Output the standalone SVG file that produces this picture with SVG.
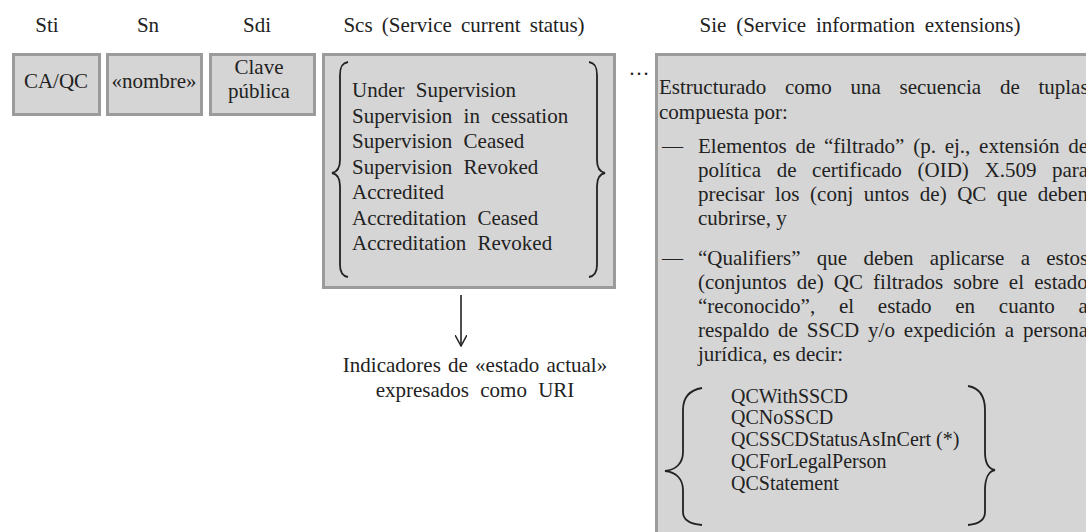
<svg xmlns="http://www.w3.org/2000/svg" width="1086" height="532" viewBox="0 0 1086 532">
<style>
text{font-family:"Liberation Serif","Times New Roman",serif;font-size:21px;fill:#222}
.box{fill:#d5d5d5;stroke:#9b9b9b;stroke-width:3}
.mid{text-anchor:middle}
.brace{fill:none;stroke:#222;stroke-width:1.8}
.conn{fill:none;stroke:#222;stroke-width:1.6}
.qc{font-size:20px}
</style>
<defs>
<marker id="arr" viewBox="0 0 12 12" refX="11" refY="6" markerWidth="12" markerHeight="12" markerUnits="userSpaceOnUse" orient="auto">
<path d="M0,0 L11,6 L0,12" fill="none" stroke="#222" stroke-width="1.5"/>
</marker>
</defs>
<rect width="1086" height="532" fill="#fff"/>
<g id="labels">
<text class="mid" x="47" y="32">Sti</text>
<text class="mid" x="148" y="32">Sn</text>
<text class="mid" x="257" y="32">Sdi</text>
<text class="mid" x="464" y="32" style="word-spacing:4px">Scs (Service current status)</text>
<text class="mid" x="860" y="32" style="word-spacing:4.5px">Sie (Service information extensions)</text>
</g>
<g id="sti">
<rect class="box" x="13.5" y="54.5" width="86" height="60"/>
<text class="mid" x="56" y="88">CA/QC</text>
</g>
<g id="sn">
<rect class="box" x="107.5" y="54.5" width="94" height="60"/>
<text class="mid" x="154" y="88">«nombre»</text>
</g>
<g id="sdi">
<rect class="box" x="210.5" y="54.5" width="104" height="60"/>
<text class="mid" x="259" y="74">Clave</text>
<text class="mid" x="259" y="98">pública</text>
</g>
<g id="scs">
<rect class="box" x="323.5" y="54.5" width="291" height="233"/>
<path class="brace" d="M348,62 C342,63 340,67 340,75 L340,160 C340,168 337,172 332,173 C337,174 340,178 340,186 L340,265 C340,272 342,276 348,277"/>
<path class="brace" d="M589,62 C595,63 597,67 597,75 L597,160 C597,168 600,172 605,173 C600,174 597,178 597,186 L597,265 C597,272 595,276 589,277"/>
<g style="word-spacing:6px">
<text x="352" y="97">Under Supervision</text>
<text x="352" y="122.5">Supervision in cessation</text>
<text x="352" y="148">Supervision Ceased</text>
<text x="352" y="173.5">Supervision Revoked</text>
<text x="352" y="199">Accredited</text>
<text x="352" y="224.5">Accreditation Ceased</text>
<text x="352" y="250">Accreditation Revoked</text>
</g>
</g>
<g id="dots">
<text class="mid" x="639" y="75">…</text>
</g>
<g id="uri">
<text class="mid" x="475" y="372" style="word-spacing:2px">Indicadores de «estado actual»</text>
<text class="mid" x="475" y="397" style="word-spacing:6px">expresados como URI</text>
</g>
<g id="sie">
<rect class="box" x="656.5" y="54.5" width="500" height="600"/>
<text x="659" y="94" style="word-spacing:13.5px">Estructurado como una secuencia de tuplas</text>
<text x="659" y="119">compuesta por:</text>
<text x="662" y="153">—</text>
<text x="698" y="153" style="word-spacing:3.5px">Elementos de “filtrado” (p. ej., extensión de</text>
<text x="698" y="177" style="word-spacing:10.4px">política de certificado (OID) X.509 para</text>
<text x="698" y="201" style="word-spacing:5.3px">precisar los (conj untos de) QC que deben</text>
<text x="698" y="225">cubrirse, y</text>
<text x="662" y="265">—</text>
<text x="698" y="265" style="word-spacing:11px">“Qualifiers” que deben aplicarse a estos</text>
<text x="698" y="289" style="word-spacing:4.9px">(conjuntos de) QC filtrados sobre el estado</text>
<text x="698" y="313" style="word-spacing:18.5px">“reconocido”, el estado en cuanto a</text>
<text x="698" y="337" style="word-spacing:3.6px">respaldo de SSCD y/o expedición a persona</text>
<text x="698" y="361">jurídica, es decir:</text>
<path class="brace" d="M702,388 C690,390 683,397 683,410 L683,452 C683,463 676,470 665,471 C676,472 683,479 683,490 L683,512 C683,520 690,524 702,525"/>
<path class="brace" d="M968,386 C979,388 985,396 985,410 L985,452 C985,463 989,469 995,470 C989,471 985,478 985,490 L985,512 C985,520 979,524 968,525"/>
<text class="qc" x="731" y="403">QCWithSSCD</text>
<text class="qc" x="731" y="424">QCNoSSCD</text>
<text class="qc" x="731" y="446">QCSSCDStatusAsInCert (*)</text>
<text class="qc" x="731" y="468">QCForLegalPerson</text>
<text class="qc" x="731" y="490">QCStatement</text>
</g>
<g id="connectors">
<line class="conn" x1="461" y1="295" x2="461" y2="346" marker-end="url(#arr)"/>
</g>
</svg>
